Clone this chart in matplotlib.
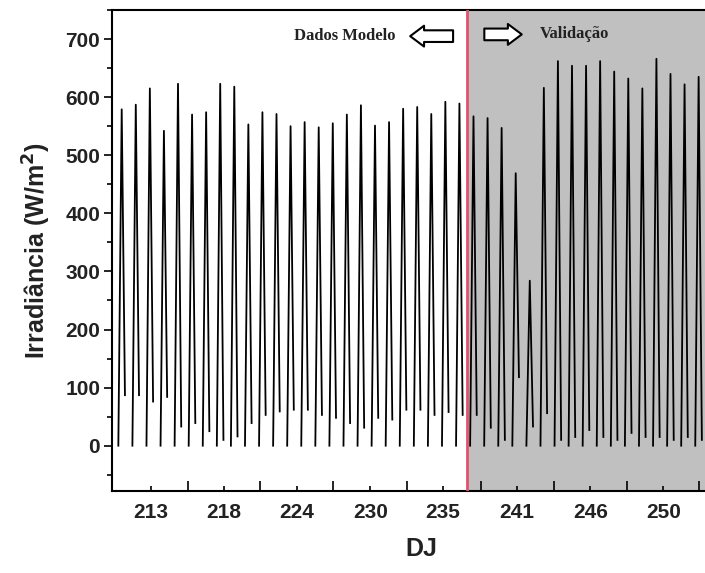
import matplotlib
matplotlib.use("Agg")
import matplotlib.pyplot as plt
import numpy as np
from matplotlib.ticker import MultipleLocator

# picos diarios de irradiancia (W/m2), um por dia
peaks = [579, 587, 615, 542, 623, 570, 574, 623, 618, 553, 574, 571, 550,
         557, 548, 555, 570, 586, 551, 557, 580, 583, 571, 592, 589,
         567, 564, 547, 469, 284, 616, 662, 654, 654, 662, 644, 632, 615,
         666, 640, 622, 635]
# ultimo valor do dia (fim da tarde)
ends = [87, 87, 76, 84, 33, 39, 25, 10, 16, 39, 53, 59, 62, 62, 53, 48,
        39, 31, 48, 45, 62, 62, 53, 58, 53,
        53, 31, 10, 118, 33, 56, 10, 15, 27, 15, 10, 22, 15, 15, 10, 15, 10]

tick_labels = ["213", "218", "224", "230", "235", "241", "246", "250"]
tick_pos = [2.06, 7.28, 12.45, 17.68, 22.83, 28.1, 33.3, 38.5]
tick_mid = [4.68, 9.86, 15.0, 20.3, 25.5, 30.7, 35.9, 41.0]
split_day = 24.52  # inicio da validacao

# monta a serie: 0 de manha -> pico -> valor final, com quebra a noite
xs, ys = [], []
for i, (p, e) in enumerate(zip(peaks, ends)):
    xs += [i - 0.24, i, i + 0.23, np.nan]
    ys += [0, p, e, np.nan]

fig = plt.figure(figsize=(7.05, 5.73), dpi=100)
ax = fig.add_axes([112 / 705, 82 / 573, 600 / 705, 481 / 573])

ax.axvspan(split_day, 50, color="#c0c0c0", lw=0, zorder=0)
ax.plot(xs, ys, color="black", lw=1.3, zorder=2)
ax.axvline(split_day, color="#e2506b", lw=2.0, zorder=3)

ax.set_xlim(-0.69, 41.95)
ax.set_ylim(-78, 750)

ax.set_xticks(tick_pos, tick_labels)
ax.set_xticks(tick_mid, minor=True)
ax.tick_params(axis="x", which="major", direction="in", length=3.5, width=1.2, pad=9)
ax.tick_params(axis="x", which="minor", direction="in", length=7, width=1.2)
ax.yaxis.set_major_locator(MultipleLocator(100))
ax.yaxis.set_minor_locator(MultipleLocator(50))
ax.set_yticks(range(0, 701, 100))
ax.tick_params(axis="y", which="major", direction="out", length=5.5, width=1.2, pad=3)
ax.tick_params(axis="y", which="minor", direction="out", length=3.5, width=1.2)
for lab in ax.get_xticklabels() + ax.get_yticklabels():
    lab.set_fontfamily("Liberation Sans")
    lab.set_fontweight("bold")
    lab.set_fontsize(15)
    lab.set_color("#222222")

for s in ax.spines.values():
    s.set_linewidth(1.5)

ax.set_ylabel("Irradiância (W/m$^\\mathbf{2}$)", fontsize=18, fontweight="bold",
              family="Liberation Sans", color="#222222", labelpad=9)
ax.set_xlabel("DJ", fontsize=18, fontweight="bold", family="Liberation Sans",
              color="#222222")
ax.xaxis.set_label_coords(0.515, -0.095)

# anotacoes
ax.text(15.85, 705, "Dados Modelo", ha="center", va="center", fontsize=12,
        fontweight="bold", family="Liberation Serif", color="#222222")
ax.text(32.2, 708, "Validação", ha="center", va="center", fontsize=12,
        fontweight="bold", family="Liberation Serif", color="#222222")
arrow = dict(arrowstyle="simple,head_length=0.5,head_width=0.75,tail_width=0.42",
             fc="white", ec="black", lw=1.5, mutation_scale=20,
             shrinkA=0, shrinkB=0)
ax.annotate("", xy=(20.5, 705), xytext=(23.55, 705), arrowprops=arrow)
ax.annotate("", xy=(28.43, 708), xytext=(25.77, 708), arrowprops=arrow)

fig.savefig("out.png", dpi=100)
